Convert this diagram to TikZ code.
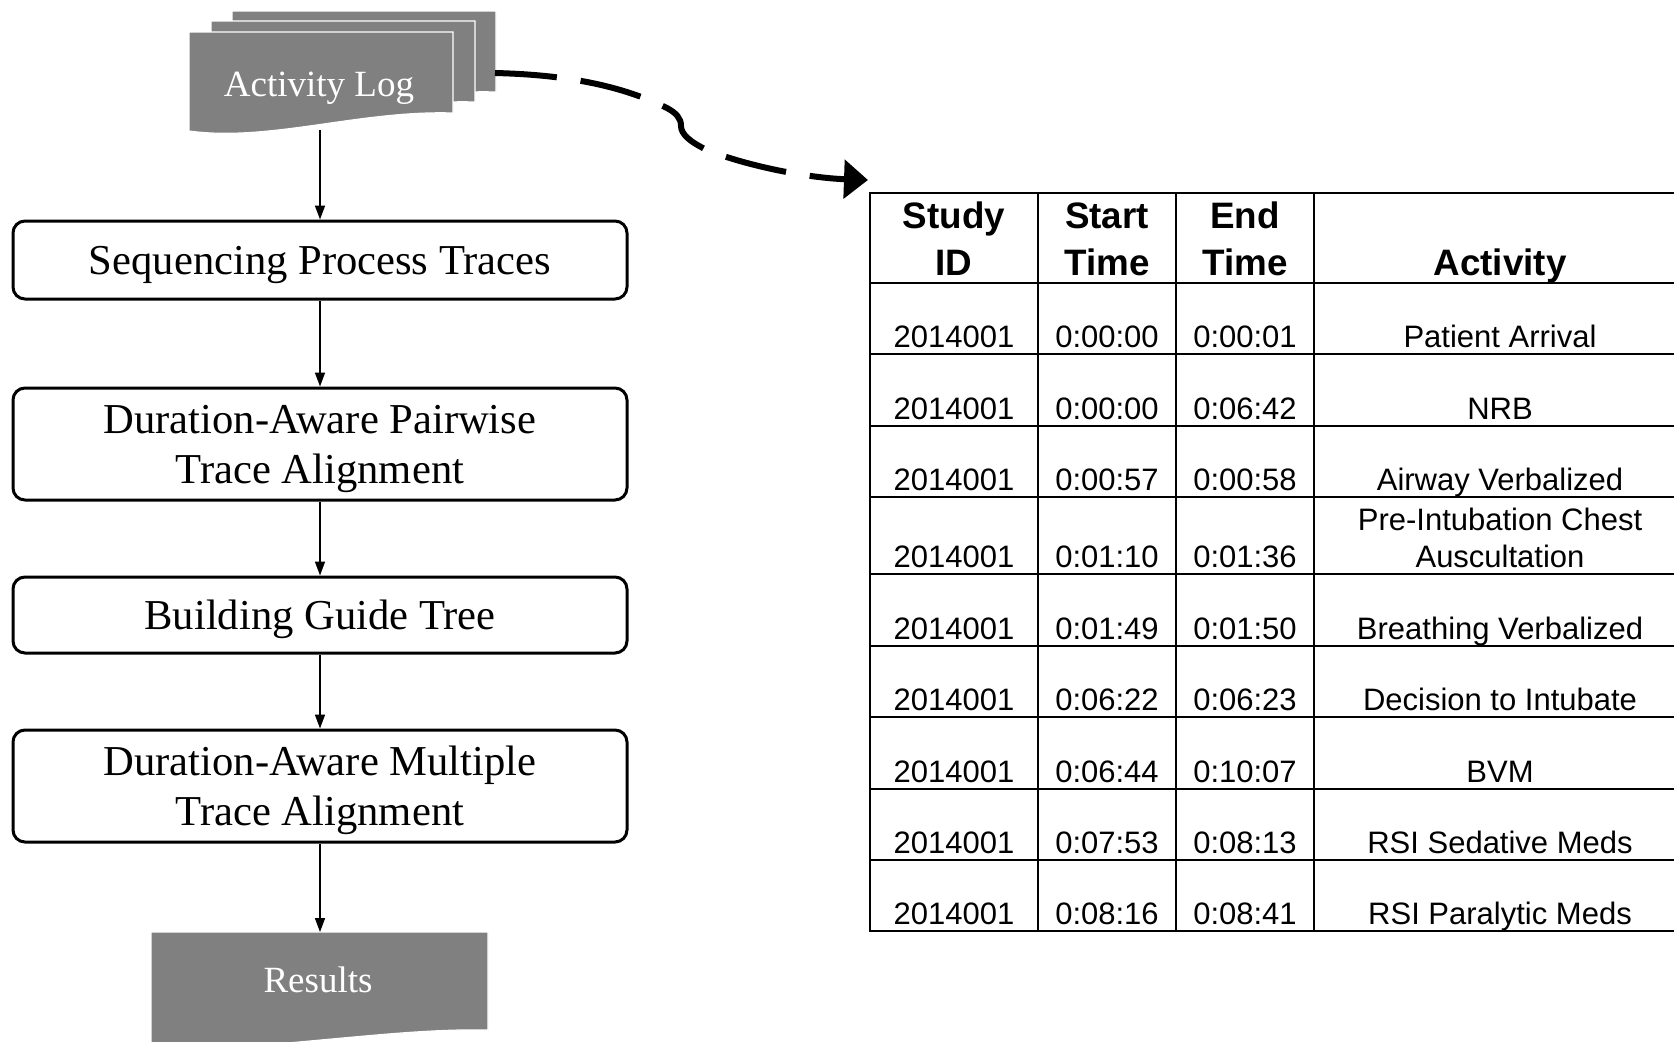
\documentclass[tikz,border=0pt]{standalone}
\usepackage{fontspec}
\setmainfont{Liberation Serif}
\setsansfont{Liberation Sans}
\usetikzlibrary{arrows.meta}

\definecolor{docgray}{RGB}{128,128,128}

\tikzset{
    stepbox/.style={draw, line width=1.5pt, rounded corners=6pt, minimum width=307pt,
        align=center, inner sep=0pt, text depth=0pt, font=\fontsize{21.3}{25}\selectfont},
    docpage/.style={fill=docgray, draw=white, line width=0.6pt},
    doclabel/.style={text=white, anchor=base, font=\fontsize{18.5}{22}\selectfont},
    flow/.style={line width=0.8pt, -{Triangle[length=7pt,width=5pt]}},
    linkarrow/.style={line width=3pt, dash pattern=on 31pt off 12pt,
        -{Triangle[length=12pt,width=19pt]}},
    tablerule/.style={line width=1.3pt, line cap=rect},
    cell/.style={anchor=south, align=center, inner sep=0pt, text depth=0pt,
        font=\sffamily\fontsize{15.5}{18.5}\selectfont},
    headcell/.style={cell, font=\sffamily\bfseries\fontsize{18.4}{23.5}\selectfont}
}

\begin{document}
\begin{tikzpicture}[x=0.5pt, y=-0.5pt]
    \useasboundingbox (0,0) rectangle (1674,1041);
    \clip (0,0) rectangle (1674,1041);
    % activity log (stack of pages)
    \foreach \dx/\dy in {43/-21, 22/-11, 0/0} {
        \draw[docpage, shift={(\dx,\dy)}] (189,32) -- (453,32) -- (453,113)
            .. controls (360,110) and (270,142) .. (189,131) -- cycle;
    }
    \node[doclabel] (log) at (319,96) {Activity Log};
    \coordinate (logbot) at (320,130);
    \coordinate (logright) at (495,73);
    % steps
    \node[stepbox, minimum height=39pt] (seq) at (320,260) {Sequencing Process Traces};
    \node[stepbox, minimum height=56pt] (pair) at (320,444) {Duration-Aware Pairwise\\Trace Alignment};
    \node[stepbox, minimum height=38pt] (tree) at (320,615) {Building Guide Tree};
    \node[stepbox, minimum height=56pt] (multi) at (320,786) {Duration-Aware Multiple\\Trace Alignment};
    % results
    \draw[docpage] (151,932) -- (488,932) -- (488,1030)
        .. controls (400,1028) and (300,1046) .. (151,1052) -- cycle;
    \node[doclabel] (res) at (318,992) {Results};
    \coordinate (restop) at (320,932);
    \draw[flow] (logbot) -- (seq.north);
    \draw[flow] (seq) -- (pair);
    \draw[flow] (pair) -- (tree);
    \draw[flow] (tree) -- (multi);
    \draw[flow] (multi) -- (restop);
    % table
    \foreach \x in {870,1038,1176,1314} {
        \draw[tablerule] (\x,193) -- (\x,931);
    }
    \foreach \y in {193,283,354,426,497,574,646,717,789,860,931} {
        \draw[tablerule] (870,\y) -- (1690,\y);
    }
    \node[headcell] (hid) at (954,276) {Study\\ID};
    \node[headcell] (hstart) at (1107,276) {Start\\Time};
    \node[headcell] (hend) at (1245,276) {End\\Time};
    \node[headcell] (hact) at (1500,276) {Activity};
    \foreach \yb/\ts/\te/\act [count=\r] in {
            354/0:00:00/0:00:01/Patient Arrival,
            426/0:00:00/0:06:42/NRB,
            497/0:00:57/0:00:58/Airway Verbalized,
            574/0:01:10/0:01:36/{Pre-Intubation Chest\\Auscultation},
            646/0:01:49/0:01:50/Breathing Verbalized,
            717/0:06:22/0:06:23/Decision to Intubate,
            789/0:06:44/0:10:07/BVM,
            860/0:07:53/0:08:13/RSI Sedative Meds,
            931/0:08:16/0:08:41/RSI Paralytic Meds} {
        \node[cell] (id\r) at (954,\yb-6) {2014001};
        \node[cell] (start\r) at (1107,\yb-6) {\ts};
        \node[cell] (end\r) at (1245,\yb-6) {\te};
        \node[cell] (act\r) at (1500,\yb-6) {\act};
    }
    % link from log to table
    \coordinate (tabcorner) at (868,180);
    \draw[linkarrow] (logright) .. controls (580,75) and (630,90) .. (667,108)
        .. controls (676,113) and (681,118) .. (681,126)
        .. controls (681,134) and (690,142) .. (707,150)
        .. controls (750,167) and (810,178) .. (tabcorner);
\end{tikzpicture}
\end{document}
